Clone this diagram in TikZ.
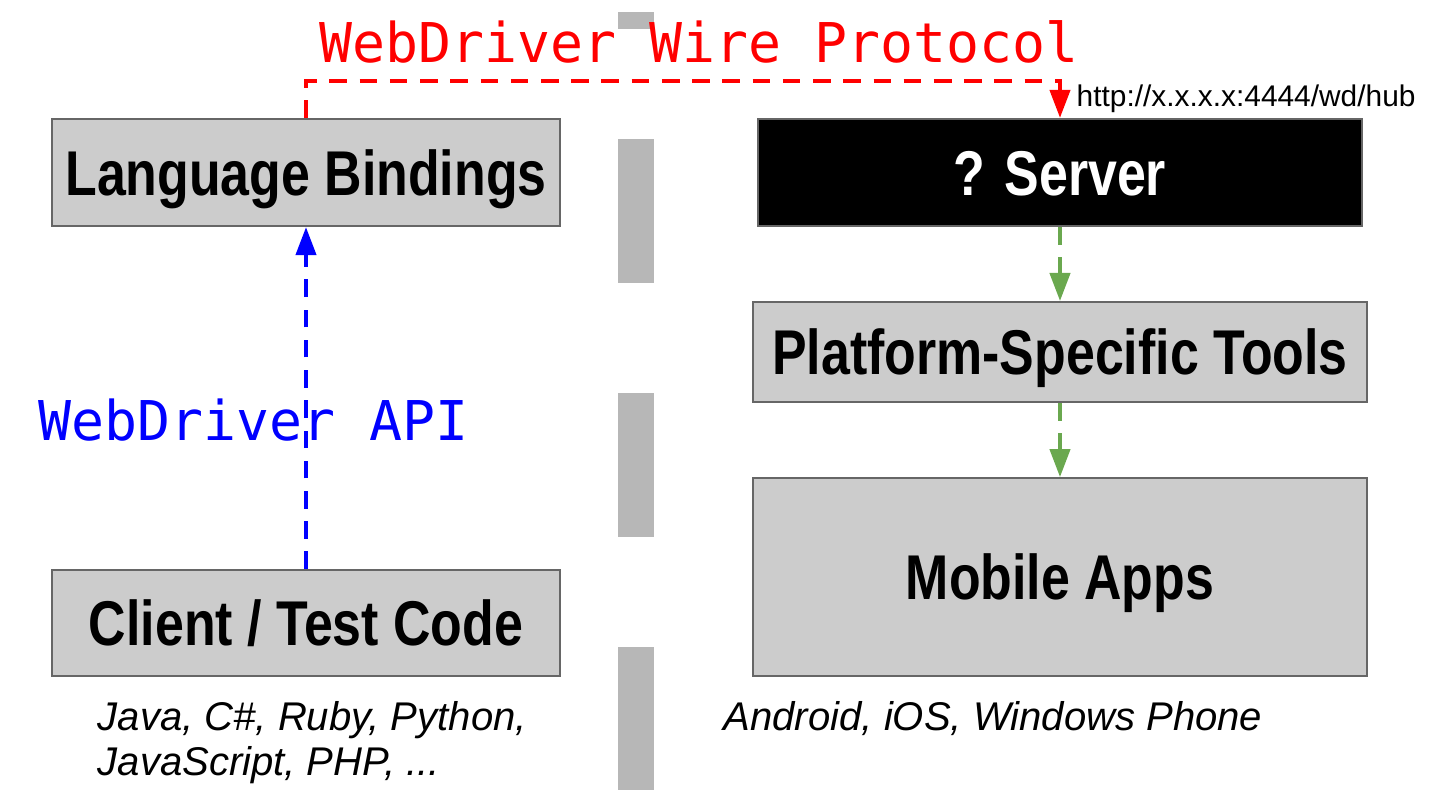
\documentclass[tikz,border=0pt]{standalone}
\usepackage{graphicx}
\usepackage{fontspec}
\setmainfont{Liberation Sans}
\newfontfamily\codefont{DejaVu Sans Mono}
\usetikzlibrary{arrows.meta, positioning}
\definecolor{boxgray}{HTML}{CCCCCC}
\definecolor{boxline}{HTML}{666666}
\definecolor{bargray}{HTML}{B7B7B7}
\definecolor{wirered}{HTML}{FF0000}
\definecolor{apiblue}{HTML}{0000FF}
\definecolor{toolgreen}{HTML}{6AA84F}
\newcommand{\narrowtext}[1]{\scalebox{0.82}[1]{#1}}

\begin{document}
\begin{tikzpicture}[
    block/.style={draw=boxline, line width=0.6pt, fill=boxgray, inner sep=0pt,
      font=\bfseries\fontsize{18}{20}\selectfont, text height=12.9pt, text depth=0pt},
    flow/.style={-{Triangle[width=5.7pt,length=8pt]}, line width=1.2pt, dash pattern=on 5pt off 3.6pt},
    codelabel/.style={font=\codefont\fontsize{15.6}{18}\selectfont, inner sep=0pt, anchor=base},
    note/.style={font=\itshape\fontsize{11.4}{12.8}\selectfont, align=left, inner sep=0pt, anchor=base west}]
    \useasboundingbox (0,0) rectangle (14.42,-8.08);

    % divider bars
    \fill[bargray] (6.18,-0.12) rectangle (6.54,-0.29);
    \fill[bargray] (6.18,-1.39) rectangle (6.54,-2.83);
    \fill[bargray] (6.18,-3.93) rectangle (6.54,-5.37);
    \fill[bargray] (6.18,-6.47) rectangle (6.54,-7.90);

    % client side
    \node[block, minimum width=5.08cm, minimum height=1.07cm] (lang) at (3.06,-1.725) {\narrowtext{Language Bindings}};
    \node[block, minimum width=5.08cm, minimum height=1.06cm, below=3.42cm of lang] (client) {\narrowtext{Client / Test Code}};
    \node[note] (langs) at (0.97,-7.75) {Java, C\#, Ruby, Python,\\JavaScript, PHP, ...};

    % server side
    \node[block, fill=black, text=white, minimum width=6.04cm, minimum height=1.07cm] (server) at (10.60,-1.725) {\narrowtext{? Server}};
    \node[block, minimum width=6.14cm, minimum height=1.00cm, below=0.74cm of server] (tools) {\narrowtext{Platform-Specific Tools}};
    \node[block, minimum width=6.14cm, minimum height=1.98cm, below=0.74cm of tools] (apps) {\narrowtext{Mobile Apps}};
    \node[note] (platforms) at (7.23,-7.30) {Android, iOS, Windows Phone};

    \node[codelabel, text=wirered] (wire) at (6.99,-0.62) {WebDriver Wire Protocol};
    \node[codelabel, text=apiblue] (api) at (2.535,-4.40) {WebDriver API};
    \node[font=\fontsize{8.5}{10}\selectfont, inner sep=0pt, anchor=base west] (url) at (10.76,-1.06) {http://x.x.x.x:4444/wd/hub};

    \draw[flow, wirered] (lang.north) -- ++(0,0.37) -| (server.north);
    \draw[flow, apiblue] (client.north) -- (lang.south);
    \draw[flow, toolgreen] (server.south) -- (tools.north);
    \draw[flow, toolgreen] (tools.south) -- (apps.north);
  \end{tikzpicture}
\end{document}
